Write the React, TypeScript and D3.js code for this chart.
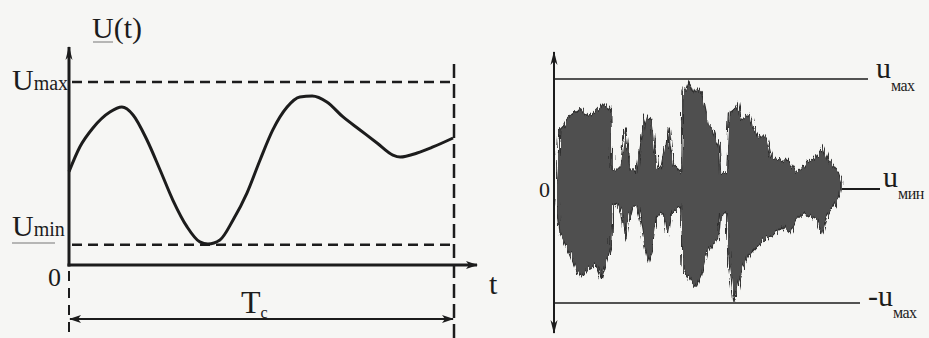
import React from 'react';
import * as d3 from 'd3';

// Left diagram: U(t) over one period Tc (t as a fraction of Tc, U as a fraction of Umax)
const curveT = [0, 0.028, 0.062, 0.106, 0.137, 0.166, 0.202, 0.236, 0.269, 0.306, 0.339, 0.36, 0.391, 0.425, 0.461, 0.495, 0.528, 0.565, 0.598, 0.63, 0.668, 0.71, 0.754, 0.798, 0.839, 0.858, 0.902, 0.943, 0.995];
const curveU = [0.51, 0.645, 0.749, 0.836, 0.863, 0.82, 0.683, 0.519, 0.355, 0.208, 0.126, 0.115, 0.137, 0.246, 0.393, 0.574, 0.738, 0.863, 0.918, 0.923, 0.891, 0.809, 0.738, 0.667, 0.601, 0.59, 0.612, 0.645, 0.694];
const uMinLevel = 0.11;

// Right diagram: speech signal envelope (time in ms, amplitude relative to u_max)
const upperT = [8, 18, 28, 38, 58, 83, 98, 118, 138, 146, 163, 170, 174, 198, 206, 211, 218, 223, 228, 248, 258, 268, 278, 293, 298, 308, 323, 336, 343, 350, 358, 383, 387, 398, 406, 418, 428, 443, 453, 463, 478, 488, 496, 500, 518, 526, 543, 553, 563, 578, 588, 598, 618, 638, 643, 653, 668, 688, 703, 713, 728, 748, 758, 773, 788, 808, 823, 838, 853, 863];
const upperA = [0.09, 0.54, 0.57, 0.63, 0.69, 0.73, 0.67, 0.69, 0.75, 0.78, 0.72, 0.75, 0.18, 0.18, 0.39, 0.55, 0.39, 0.3, 0.18, 0.15, 0.36, 0.57, 0.67, 0.63, 0.51, 0.21, 0.18, 0.39, 0.55, 0.36, 0.22, 0.15, 0.9, 0.9, 0.97, 0.87, 0.92, 0.87, 0.72, 0.58, 0.54, 0.45, 0.39, 0.13, 0.15, 0.69, 0.72, 0.78, 0.63, 0.66, 0.7, 0.57, 0.48, 0.48, 0.43, 0.3, 0.27, 0.24, 0.27, 0.21, 0.15, 0.19, 0.24, 0.27, 0.3, 0.39, 0.27, 0.21, 0.15, 0.06];
const lowerT = [8, 18, 28, 48, 63, 83, 98, 113, 128, 143, 158, 170, 174, 188, 203, 213, 223, 233, 248, 263, 273, 283, 293, 308, 328, 341, 353, 383, 387, 398, 413, 428, 443, 458, 478, 493, 500, 518, 526, 540, 553, 568, 588, 608, 628, 648, 668, 688, 708, 728, 748, 768, 788, 803, 818, 838, 858, 863];
const lowerA = [-0.06, -0.39, -0.45, -0.57, -0.69, -0.78, -0.72, -0.69, -0.66, -0.78, -0.63, -0.51, -0.15, -0.12, -0.21, -0.45, -0.27, -0.15, -0.15, -0.33, -0.51, -0.63, -0.54, -0.24, -0.21, -0.45, -0.21, -0.15, -0.69, -0.75, -0.81, -0.85, -0.75, -0.57, -0.48, -0.45, -0.21, -0.21, -0.66, -0.99, -0.81, -0.69, -0.57, -0.51, -0.45, -0.42, -0.39, -0.33, -0.39, -0.27, -0.21, -0.24, -0.27, -0.39, -0.24, -0.15, -0.06, 0];
const tailEnd = 978;

const W = 929;
const H = 338;
const ink = '#1c1c1c';
const serif = 'Liberation Serif, Times New Roman, DejaVu Serif, serif';

export default function App() {
  // left scales
  const xL = d3.scaleLinear().domain([0, 1]).range([69, 455]);
  const yL = d3.scaleLinear().domain([0, 1]).range([265, 82]);

  // right scales
  const xR = d3.scaleLinear().domain([0, tailEnd]).range([554, 880]);
  const yR = d3.scaleLinear().domain([-1, 0, 1]).range([303, 189, 79]);

  const curve = d3.line<number>()
    .x((d, i) => xL(curveT[i]))
    .y(d => yL(d))
    .curve(d3.curveMonotoneX)(curveU);

  const upper = upperT.map((t, i) => [xR(t), yR(upperA[i])] as [number, number]);
  const lower = lowerT.map((t, i) => [xR(t), yR(lowerA[i])] as [number, number]).reverse();
  const wave = d3.line().curve(d3.curveLinearClosed)([...upper, ...lower]);

  const x0 = xL(0), y0 = yL(0);
  const xTc = xL(1) - 1;
  const txt = { fontFamily: serif, fill: ink };

  return (
    <svg width={W} height={H} viewBox={`0 0 ${W} ${H}`}
      style={{ position: 'absolute', left: 0, top: 0, background: '#f6f6f4' }}>
      <defs>
        <marker id="head" viewBox="0 0 12 10" refX="11" refY="5" markerWidth="12" markerHeight="10"
          markerUnits="userSpaceOnUse" orient="auto-start-reverse">
          <path d="M0,1 L12,5 L0,9 L3,5 Z" fill={ink} />
        </marker>
        <marker id="thin" viewBox="0 0 14 8" refX="13" refY="4" markerWidth="14" markerHeight="8"
          markerUnits="userSpaceOnUse" orient="auto-start-reverse">
          <path d="M0,0.5 L14,4 L0,7.5 L4,4 Z" fill={ink} />
        </marker>
        <filter id="rough" x="-5%" y="-10%" width="110%" height="120%">
          <feTurbulence type="fractalNoise" baseFrequency="1.6 0.04" numOctaves="2" seed="4" />
          <feDisplacementMap in="SourceGraphic" scale="9" xChannelSelector="R" yChannelSelector="G" />
        </filter>
      </defs>

      {/* ---- left diagram ---- */}
      <g fill="none" stroke={ink}>
        <line x1={x0 + 3} x2={xTc} y1={yL(1)} y2={yL(1)} strokeWidth={2.5} strokeDasharray="10 6" />
        <line x1={x0 + 3} x2={xTc} y1={yL(uMinLevel)} y2={yL(uMinLevel)} strokeWidth={2.5} strokeDasharray="10 6" />
        <line x1={xTc} x2={xTc} y1={64} y2={H} strokeWidth={2.5} strokeDasharray="14 6" />
        <line x1={x0} x2={x0} y1={y0 + 6} y2={H} strokeWidth={2} strokeDasharray="10 7" />
        <line x1={x0} x2={x0} y1={y0 + 1.5} y2={47} strokeWidth={3} markerEnd="url(#thin)" />
        <line x1={x0 - 1.5} x2={477} y1={y0} y2={y0} strokeWidth={3.2} markerEnd="url(#head)" />
        <line x1={x0 + 1} x2={xTc - 1} y1={319} y2={319} strokeWidth={2} markerStart="url(#head)" markerEnd="url(#head)" />
        <path d={curve ?? ''} strokeWidth={3} />
      </g>
      <g style={txt}>
        <text x={92} y={38} fontSize={30}>U(t)</text>
        <text x={12} y={90} fontSize={30}>U<tspan fontSize={20}>max</tspan></text>
        <text x={12} y={236} fontSize={30}>U<tspan fontSize={20}>min</tspan></text>
        <text x={48} y={286} fontSize={26}>0</text>
        <text x={489} y={294} fontSize={30}>t</text>
        <text x={241} y={313} fontSize={32}>T<tspan fontSize={16} dy={5}>c</tspan></text>
      </g>
      <g stroke="#777" strokeWidth={1}>
        <line x1={93} x2={113} y1={42} y2={42} />
        <line x1={12} x2={55} y1={243} y2={243} />
      </g>

      {/* ---- right diagram ---- */}
      <g fill="none" stroke={ink}>
        <line x1={xR(0)} x2={868} y1={yR(1)} y2={yR(1)} strokeWidth={1.6} />
        <line x1={xR(0)} x2={860} y1={yR(-1)} y2={yR(-1)} strokeWidth={1.6} />
        <line x1={xR(upperT[upperT.length - 1])} x2={xR(tailEnd)} y1={yR(0)} y2={yR(0)} strokeWidth={1.8} />
        <line x1={xR(0)} x2={xR(0)} y1={191} y2={52} strokeWidth={2} markerEnd="url(#thin)" />
        <line x1={xR(0)} x2={xR(0)} y1={191} y2={333} strokeWidth={2} markerEnd="url(#thin)" />
      </g>
      <path d={wave ?? ''} fill="#4f4f4f" stroke="#2e2e2e" strokeWidth={1.2} filter="url(#rough)" />
      <g style={txt}>
        <text x={539} y={197} fontSize={22}>0</text>
        <text x={876} y={78} fontSize={30}>u<tspan fontSize={16} dy={13} letterSpacing={-0.5}>мах</tspan></text>
        <text x={883} y={187} fontSize={30}>u<tspan fontSize={16} dy={12} letterSpacing={-0.5}>мин</tspan></text>
        <text x={868} y={306} fontSize={30}>-u<tspan fontSize={16} dy={12} letterSpacing={-0.5}>мах</tspan></text>
      </g>
    </svg>
  );
}
